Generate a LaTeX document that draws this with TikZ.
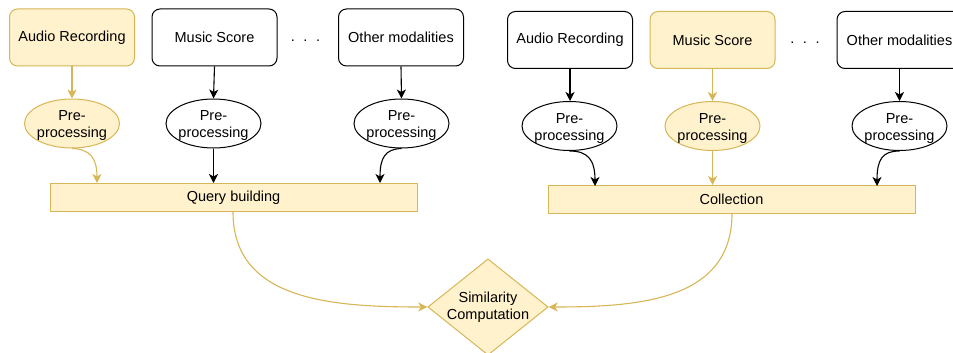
\documentclass[tikz,border=0pt]{standalone}
\usepackage{fontspec}
\setmainfont{Liberation Sans}
\usetikzlibrary{shapes.geometric,arrows.meta,calc}
\definecolor{ystroke}{HTML}{D6B656}
\definecolor{yfill}{HTML}{FFF2CC}
\newcommand{\pptext}{\rule{0pt}{14.5pt}Pre-\\processing}
\tikzset{
  base/.style={font=\fontsize{14.5}{17}\selectfont, line width=1pt, align=center},
  modbox/.style={base, draw=black, rectangle, rounded corners=8pt, minimum width=125pt, minimum height=57pt, inner sep=0pt},
  ymodbox/.style={modbox, draw=ystroke, fill=yfill},
  prep/.style={base, draw=black, ellipse, minimum width=95pt, minimum height=49pt, inner xsep=-3pt, inner ysep=0pt},
  yprep/.style={prep, draw=ystroke, fill=yfill},
  bar/.style={base, draw=ystroke, fill=yfill, rectangle, minimum height=28pt, inner sep=0pt},
  sim/.style={base, draw=ystroke, fill=yfill, diamond, aspect=1.25, minimum width=120pt, minimum height=96pt, inner sep=0pt},
  dotsnode/.style={font=\fontsize{14.5}{17}\selectfont, anchor=base, inner sep=0pt},
  arr/.style={line width=1.1pt, -{Stealth[length=9pt,width=9pt,inset=2.5pt]}, draw=black},
  yarr/.style={arr, draw=ystroke},
}
\begin{document}
\begin{tikzpicture}[x=1pt,y=-1pt]
\useasboundingbox (0,0) rectangle (953,353);
\clip (0,0) rectangle (953,353);

% ---------- left group ----------
\node[ymodbox] (la) at (72,37.5) {Audio Recording};
\node[modbox] (lm) at (214.5,37.5) {Music Score};
\node[dotsnode] (ld) at (305.5,42) {.\hspace{8.5pt}.\hspace{8.5pt}.};
\node[modbox] (lo) at (401,37.5) {Other modalities};

\node[yprep] (lpa) at (72,123.5) {\pptext};
\node[prep] (lpm) at (213.5,123.5) {\pptext};
\node[prep] (lpo) at (401.5,123.5) {\pptext};

\node[bar, minimum width=367pt] (qb) at (233.5,197.5) {Query building};

\coordinate (q1) at (97,183);
\coordinate (q3) at (380,183);

\draw[yarr] (la.south) -- (lpa.north);
\draw[arr] (lm.south) -- (lpm.north);
\draw[arr] (lo.south) -- (lpo.north);

\draw[yarr] (lpa.south) .. controls (90,149) and (97,158) .. (q1);
\draw[arr] (lpm.south) -- (lpm.south |- qb.north);
\draw[arr] (lpo.south) .. controls (385,149) and (380,158) .. (q3);

% ---------- right group ----------
\node[modbox] (ra) at (570,40) {Audio Recording};
\node[ymodbox] (rm) at (712.5,40) {Music Score};
\node[dotsnode] (rd) at (805,44) {.\hspace{8.5pt}.\hspace{8.5pt}.};
\node[modbox] (ro) at (899.5,40) {Other modalities};

\node[prep] (rpa) at (569.5,126) {\pptext};
\node[yprep] (rpm) at (712.5,126) {\pptext};
\node[prep] (rpo) at (899.5,126) {\pptext};

\node[bar, minimum width=367pt] (col) at (731.5,199.5) {Collection};

\coordinate (c1) at (595,186);
\coordinate (c3) at (877,186);

\draw[arr] (ra.south) -- (ra.south |- rpa.north);
\draw[yarr] (rm.south) -- (rpm.north);
\draw[arr] (ro.south) -- (rpo.north);

\draw[arr] (rpa.south) .. controls (588,151) and (595,160) .. (c1);
\draw[yarr] (rpm.south) -- (rpm.south |- col.north);
\draw[arr] (rpo.south) .. controls (882,151) and (877,160) .. (c3);

% ---------- similarity ----------
\node[sim] (sc) at (488,307) {Similarity\\Computation};

\coordinate (qbo) at (233,212);
\coordinate (cbo) at (732,213.5);
\draw[yarr] (qbo) .. controls (233,300) and (330,307) .. (sc.west);
\draw[yarr] (cbo) .. controls (732,300) and (640,307) .. (sc.east);
\end{tikzpicture}
\end{document}
